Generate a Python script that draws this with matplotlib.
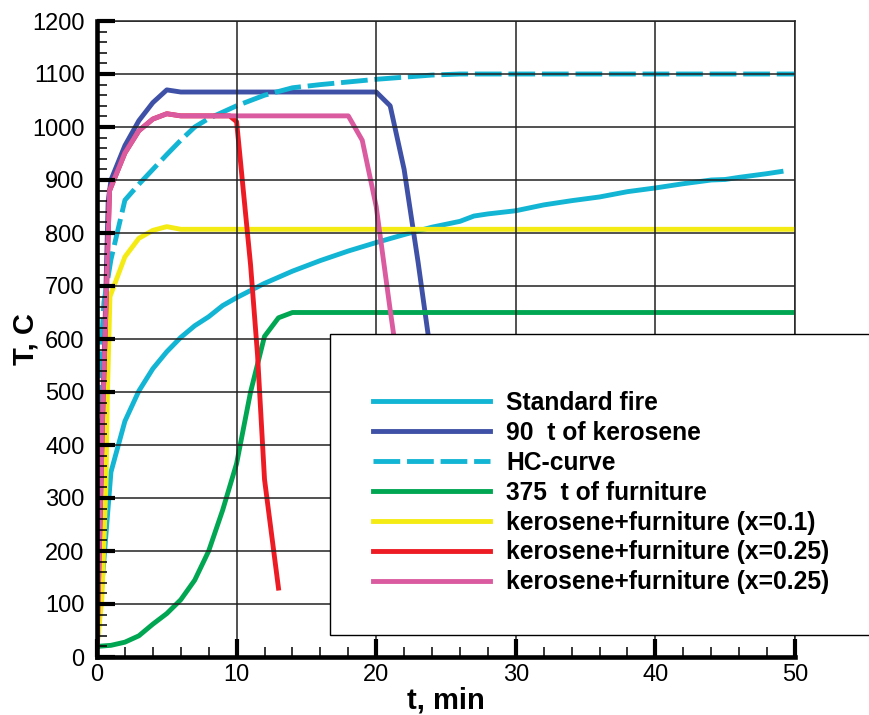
import matplotlib
matplotlib.use("Agg")
import matplotlib.pyplot as plt
from matplotlib.lines import Line2D
from matplotlib.patches import Rectangle
from matplotlib.ticker import MultipleLocator

plt.rcParams['font.family'] = ['Liberation Sans', 'DejaVu Sans']

# ---- data ----
t_std = [0, 1, 2, 3, 4, 5, 6, 7, 8, 9, 10, 12, 14, 16, 18, 20, 22, 24, 26, 27, 28,
         30, 32, 34, 36, 38, 40, 42, 44, 45, 46, 48, 49]
T_std = [20, 349, 445, 502, 544, 576, 603, 625, 642, 663, 678, 705, 728, 748, 766, 782,
         797, 811, 822, 832, 836, 842, 853, 861, 868, 878, 885, 893, 900, 901, 905, 912, 916]

t_ker = [0, 0.4, 0.8, 1, 2, 3, 4, 5, 6, 20, 21, 22, 23, 24, 25, 26]
T_ker = [20, 450, 860, 900, 965, 1012, 1046, 1070, 1066, 1066, 1040, 920, 745, 555, 365, 175]

t_hc = [0, 0.25, 0.5, 1, 2, 3, 4, 5, 6, 7, 8, 9, 10, 12, 14, 16, 18, 20, 22, 24, 26, 50]
T_hc = [20, 560, 670, 750, 862, 892, 920, 948, 975, 1000, 1016, 1028, 1040, 1060, 1074,
        1080, 1085, 1090, 1094, 1098, 1100, 1100]

t_fur = [0, 1, 2, 3, 4, 5, 6, 7, 8, 9, 10, 11, 12, 13, 14, 50]
T_fur = [20, 22, 28, 40, 62, 82, 108, 145, 200, 277, 365, 500, 605, 640, 650, 650]

t_x01 = [0, 0.35, 0.65, 0.75, 0.93, 2, 3, 4, 5, 6, 50]
T_x01 = [20, 110, 330, 500, 680, 755, 790, 805, 812, 807, 807]

t_x025a = [0, 0.4, 0.9, 2, 3, 4, 5, 6, 9.5, 10, 11, 11.5, 12, 13]
T_x025a = [20, 450, 880, 951, 993, 1015, 1025, 1021, 1021, 1010, 740, 570, 335, 130]

t_x025b = [0, 0.4, 0.9, 2, 3, 4, 5, 6, 18, 19, 20, 21, 22, 23]
T_x025b = [20, 450, 880, 951, 993, 1015, 1025, 1021, 1021, 975, 850, 655, 470, 280]

labels = ["Standard fire", "90  t of kerosene", "HC-curve", "375  t of furniture",
          "kerosene+furniture (x=0.1)", "kerosene+furniture (x=0.25)",
          "kerosene+furniture (x=0.25)"]

CYAN = '#12B5D3'
BLUE = '#3F51A6'
GREEN = '#00A651'
YELLOW = '#F5EB14'
RED = '#ED1C24'
PINK = '#DB5BA0'

W, H = 869, 715
fig = plt.figure(figsize=(W / 100, H / 100), dpi=100)
ax = fig.add_axes([97 / W, 1 - 657 / H, (795 - 97) / W, (657 - 21) / H])

lw = 3.5
series = [
    (t_std, T_std, CYAN, '-'),
    (t_ker, T_ker, BLUE, '-'),
    (t_hc, T_hc, CYAN, '--'),
    (t_fur, T_fur, GREEN, '-'),
    (t_x01, T_x01, YELLOW, '-'),
    (t_x025a, T_x025a, RED, '-'),
    (t_x025b, T_x025b, PINK, '-'),
]
handles = []
for (tx, ty, c, ls), lab in zip(series, labels):
    if ls == '--':
        ax.plot(tx, ty, color=c, lw=lw, dashes=(5.5, 1.4), zorder=3)
        h = Line2D([], [], color=c, lw=lw, dashes=(5.5, 1.4))
    else:
        ax.plot(tx, ty, color=c, lw=lw, zorder=3)
        h = Line2D([], [], color=c, lw=lw)
    handles.append(h)

ax.set_xlim(0, 50)
ax.set_ylim(0, 1200)
ax.xaxis.set_major_locator(MultipleLocator(10))
ax.xaxis.set_minor_locator(MultipleLocator(2))
ax.yaxis.set_major_locator(MultipleLocator(100))
ax.yaxis.set_minor_locator(MultipleLocator(20))
ax.grid(True, which='major', color='#222222', lw=1.1, zorder=1)
for gl in ax.get_xgridlines() + ax.get_ygridlines():
    gl.set_zorder(1)
ax.xaxis.set_zorder(5)
ax.yaxis.set_zorder(5)

for s in ['left', 'bottom']:
    ax.spines[s].set_linewidth(3.3)
    ax.spines[s].set_color('black')
    ax.spines[s].set_zorder(6)
for s in ['top', 'right']:
    ax.spines[s].set_linewidth(1.1)
    ax.spines[s].set_color('#222222')

ax.tick_params(which='major', direction='in', length=13, width=3, colors='black',
               labelsize=17)
ax.tick_params(which='minor', direction='in', length=7, width=1.1, colors='black')
ax.tick_params(axis='y', which='major', pad=9)
ax.tick_params(axis='x', which='major', pad=5)
ax.tick_params(top=False, right=False, which='both')

ax.set_xlabel("t, min", fontsize=21, fontweight='bold')
ax.set_ylabel("T, C", fontsize=21, fontweight='bold')
ax.xaxis.set_label_coords(0.5, -0.047)
ax.yaxis.set_label_coords(-0.082, 0.5)

# legend box (extends beyond the axes)
rect = Rectangle((330 / W, 1 - 635 / H), (880 - 330) / W, (635 - 334) / H,
                 transform=fig.transFigure, facecolor='white', edgecolor='black',
                 lw=1.0, clip_on=False, zorder=7)
ax.add_patch(rect)
leg = ax.legend(handles, labels, loc='upper left',
                bbox_to_anchor=(373 / W, 1 - 391 / H), bbox_transform=fig.transFigure,
                frameon=False, borderpad=0, borderaxespad=0, handlelength=4.75,
                handletextpad=0.68, labelspacing=0.24,
                prop={'size': 17.7, 'weight': 'bold'})
leg.set_zorder(8)

fig.savefig("out.png", dpi=100)
